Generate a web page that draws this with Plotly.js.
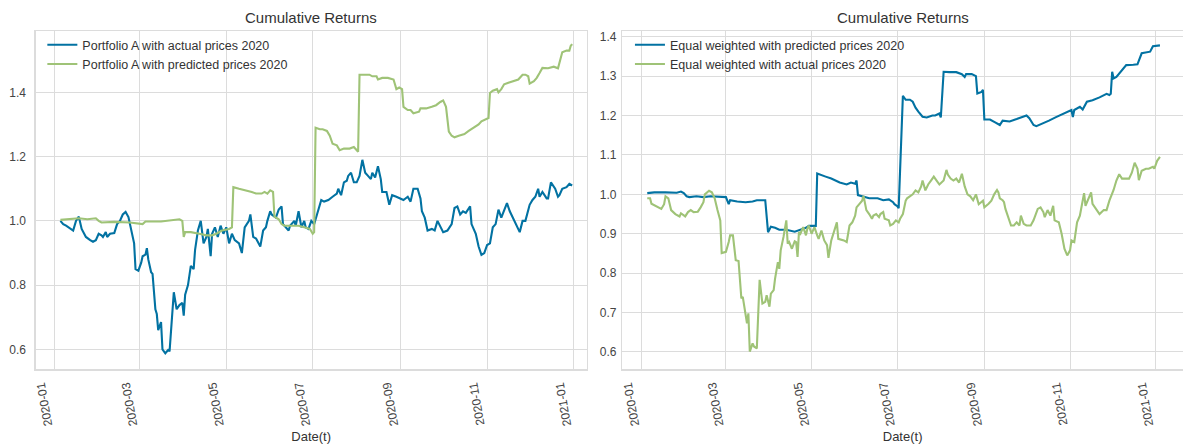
<!DOCTYPE html>
<html>
<head>
<meta charset="utf-8">
<script src="https://cdn.plot.ly/plotly-3.0.1.min.js"></script>
<style>
  html, body { margin: 0; padding: 0; background: #ffffff; }
  #chart { width: 1183px; height: 444px; }
</style>
</head>
<body>
<div id="chart"></div>
<script>
// ---- Portfolio A, 2020 ----
const portfolioActualDates = [
  '2020-01-05','2020-01-07','2020-01-09','2020-01-11','2020-01-14','2020-01-16','2020-01-18','2020-01-20','2020-01-23','2020-01-26',
  '2020-01-28','2020-01-30','2020-02-01','2020-02-03','2020-02-04','2020-02-06','2020-02-07','2020-02-09','2020-02-12','2020-02-14',
  '2020-02-16','2020-02-18','2020-02-20','2020-02-22','2020-02-24','2020-02-26','2020-02-27','2020-02-29','2020-03-02','2020-03-03',
  '2020-03-05','2020-03-06','2020-03-07','2020-03-09','2020-03-10','2020-03-12','2020-03-13','2020-03-14','2020-03-16','2020-03-17',
  '2020-03-19','2020-03-21','2020-03-22','2020-03-24','2020-03-25','2020-03-27','2020-03-29','2020-03-31','2020-04-01','2020-04-02',
  '2020-04-04','2020-04-06','2020-04-08','2020-04-09','2020-04-11','2020-04-13','2020-04-15','2020-04-17','2020-04-18','2020-04-20',
  '2020-04-21','2020-04-23','2020-04-25','2020-04-27','2020-04-29','2020-05-01','2020-05-03','2020-05-05','2020-05-07','2020-05-10',
  '2020-05-12','2020-05-14','2020-05-17','2020-05-18','2020-05-20','2020-05-22','2020-05-25','2020-05-27','2020-05-29','2020-05-30',
  '2020-06-01','2020-06-02','2020-06-05','2020-06-07','2020-06-09','2020-06-10','2020-06-12','2020-06-14','2020-06-15','2020-06-18',
  '2020-06-19','2020-06-21','2020-06-23','2020-06-25','2020-06-26','2020-06-28','2020-06-30','2020-07-02','2020-07-04','2020-07-07',
  '2020-07-09','2020-07-12','2020-07-15','2020-07-18','2020-07-19','2020-07-21','2020-07-23','2020-07-25','2020-07-26','2020-07-28',
  '2020-07-30','2020-08-01','2020-08-03','2020-08-05','2020-08-06','2020-08-07','2020-08-09','2020-08-11','2020-08-12','2020-08-14',
  '2020-08-16','2020-08-18','2020-08-19','2020-08-22','2020-08-24','2020-08-26','2020-08-29','2020-08-31','2020-09-03','2020-09-06',
  '2020-09-08','2020-09-10','2020-09-13','2020-09-15','2020-09-16','2020-09-18','2020-09-20','2020-09-23','2020-09-25','2020-09-27',
  '2020-09-29','2020-10-01','2020-10-04','2020-10-07','2020-10-09','2020-10-11','2020-10-13','2020-10-15','2020-10-17','2020-10-20',
  '2020-10-21','2020-10-24','2020-10-26','2020-10-28','2020-10-30','2020-11-01','2020-11-03','2020-11-05','2020-11-07','2020-11-09',
  '2020-11-11','2020-11-13','2020-11-15','2020-11-17','2020-11-19','2020-11-22','2020-11-24','2020-11-26','2020-11-28','2020-12-01',
  '2020-12-03','2020-12-05','2020-12-07','2020-12-08','2020-12-10','2020-12-13','2020-12-14','2020-12-16','2020-12-19','2020-12-21',
  '2020-12-22','2020-12-24','2020-12-27','2020-12-29','2020-12-31'
];
const portfolioActualReturns = [
  1.000,0.990,0.985,0.980,0.970,1.000,1.013,0.975,0.950,0.940,
  0.935,0.940,0.960,0.955,0.950,0.965,0.950,0.960,0.962,0.990,
  1.000,1.020,1.028,1.012,0.970,0.930,0.850,0.845,0.870,0.890,
  0.895,0.915,0.880,0.840,0.835,0.725,0.710,0.660,0.685,0.600,
  0.588,0.598,0.594,0.720,0.778,0.725,0.738,0.745,0.705,0.770,
  0.800,0.860,0.850,0.910,0.970,1.000,0.930,0.950,0.975,0.890,
  0.960,0.980,0.950,0.985,0.960,0.980,0.930,0.960,0.940,0.930,
  0.900,0.980,1.000,1.020,0.950,0.945,0.920,0.970,0.980,1.000,
  1.030,1.020,1.010,1.035,1.045,0.990,0.980,0.970,0.985,1.000,
  0.985,1.030,0.980,1.000,0.980,0.975,1.000,0.990,1.020,1.065,
  1.060,1.065,1.075,1.085,1.100,1.080,1.120,1.125,1.140,1.150,
  1.120,1.120,1.140,1.190,1.170,1.150,1.140,1.130,1.150,1.135,
  1.170,1.130,1.090,1.090,1.050,1.080,1.075,1.070,1.065,1.075,
  1.060,1.100,1.100,1.070,1.030,1.010,0.970,0.975,0.970,1.000,
  0.980,0.965,0.970,0.990,1.040,1.045,1.020,1.030,1.025,1.045,
  0.990,0.960,0.920,0.894,0.900,0.925,0.930,0.980,0.990,1.035,
  1.010,1.030,1.055,1.030,1.010,0.985,0.965,1.000,1.000,1.050,
  1.065,1.075,1.100,1.075,1.090,1.070,1.070,1.120,1.100,1.075,
  1.080,1.100,1.105,1.115,1.110
];

const portfolioPredictedDates = [
  '2020-01-05','2020-01-11','2020-01-18','2020-01-24','2020-01-30','2020-02-01','2020-02-03','2020-02-12','2020-02-23','2020-03-03',
  '2020-03-05','2020-03-16','2020-03-26','2020-03-29','2020-03-31','2020-04-01','2020-04-02','2020-04-06','2020-04-12','2020-04-17',
  '2020-04-21','2020-04-24','2020-04-28','2020-05-03','2020-05-05','2020-05-06','2020-05-10','2020-05-15','2020-05-19','2020-05-22',
  '2020-05-26','2020-05-28','2020-05-30','2020-06-01','2020-06-03','2020-06-04','2020-06-07','2020-06-09','2020-06-11','2020-06-15',
  '2020-06-21','2020-06-25','2020-06-28','2020-06-29','2020-07-01','2020-07-02','2020-07-03','2020-07-06','2020-07-08','2020-07-11',
  '2020-07-13','2020-07-15','2020-07-18','2020-07-20','2020-07-23','2020-07-27','2020-07-30','2020-08-01','2020-08-02','2020-08-03',
  '2020-08-06','2020-08-10','2020-08-12','2020-08-15','2020-08-16','2020-08-19','2020-08-23','2020-08-27','2020-08-29','2020-08-31',
  '2020-09-02','2020-09-03','2020-09-06','2020-09-08','2020-09-10','2020-09-14','2020-09-15','2020-09-19','2020-09-23','2020-09-26',
  '2020-09-29','2020-10-01','2020-10-03','2020-10-05','2020-10-07','2020-10-09','2020-10-12','2020-10-16','2020-10-19','2020-10-23',
  '2020-10-26','2020-10-28','2020-10-31','2020-11-02','2020-11-03','2020-11-05','2020-11-08','2020-11-09','2020-11-11','2020-11-13',
  '2020-11-16','2020-11-20','2020-11-23','2020-11-26','2020-11-28','2020-11-30','2020-12-01','2020-12-04','2020-12-06','2020-12-08',
  '2020-12-10','2020-12-14','2020-12-18','2020-12-21','2020-12-23','2020-12-24','2020-12-27','2020-12-29','2020-12-30','2020-12-31'
];
const portfolioPredictedReturns = [
  1.003,1.005,1.008,1.005,1.008,1.000,0.995,0.997,0.995,0.990,
  0.998,0.998,1.002,1.005,1.000,0.950,0.965,0.965,0.960,0.955,
  0.955,0.960,0.970,0.975,0.980,1.105,1.100,1.095,1.090,1.085,
  1.085,1.090,1.085,1.095,1.090,1.013,1.005,0.990,0.985,0.985,
  0.985,0.980,0.975,0.975,0.960,0.965,1.290,1.285,1.285,1.280,
  1.265,1.240,1.235,1.220,1.225,1.225,1.230,1.220,1.215,1.455,
  1.455,1.455,1.450,1.450,1.440,1.445,1.445,1.440,1.410,1.415,
  1.410,1.355,1.345,1.345,1.335,1.340,1.350,1.350,1.355,1.360,
  1.370,1.375,1.355,1.278,1.265,1.260,1.265,1.270,1.280,1.290,
  1.300,1.310,1.315,1.320,1.398,1.405,1.410,1.400,1.410,1.425,
  1.430,1.435,1.440,1.455,1.455,1.450,1.427,1.435,1.445,1.460,
  1.476,1.475,1.480,1.475,1.510,1.525,1.530,1.530,1.545,1.550
];

// ---- Equal weighted portfolio, 2020 ----
const equalPredictedDates = [
  '2020-01-05','2020-01-10','2020-01-18','2020-01-26','2020-01-29','2020-01-31','2020-02-02','2020-02-04','2020-02-09','2020-02-14',
  '2020-02-19','2020-02-25','2020-03-01','2020-03-03','2020-03-04','2020-03-09','2020-03-15','2020-03-20','2020-03-23','2020-03-29',
  '2020-03-31','2020-04-02','2020-04-05','2020-04-08','2020-04-13','2020-04-19','2020-04-23','2020-04-27','2020-04-29','2020-05-04',
  '2020-05-05','2020-05-07','2020-05-11','2020-05-15','2020-05-21','2020-05-26','2020-05-29','2020-06-01','2020-06-02','2020-06-03',
  '2020-06-06','2020-06-11','2020-06-17','2020-06-21','2020-06-25','2020-06-28','2020-06-29','2020-07-01','2020-07-02','2020-07-05',
  '2020-07-07','2020-07-10','2020-07-12','2020-07-14','2020-07-16','2020-07-19','2020-07-22','2020-07-26','2020-07-28','2020-07-31',
  '2020-08-01','2020-08-03','2020-08-07','2020-08-12','2020-08-16','2020-08-18','2020-08-19','2020-08-23','2020-08-26','2020-08-27',
  '2020-08-30','2020-08-31','2020-09-01','2020-09-05','2020-09-09','2020-09-12','2020-09-14','2020-09-19','2020-09-24','2020-09-28',
  '2020-10-01','2020-10-03','2020-10-06','2020-10-08','2020-10-13','2020-10-17','2020-10-22','2020-10-27','2020-10-31','2020-11-02',
  '2020-11-03','2020-11-04','2020-11-08','2020-11-10','2020-11-13','2020-11-17','2020-11-22','2020-11-27','2020-11-29','2020-11-30',
  '2020-12-01','2020-12-02','2020-12-04','2020-12-06','2020-12-09','2020-12-11','2020-12-16','2020-12-19','2020-12-22','2020-12-25',
  '2020-12-28','2020-12-30','2021-01-04'
];
const equalPredictedReturns = [
  1.003,1.005,1.005,1.004,1.007,1.003,0.995,0.993,0.995,0.993,
  0.995,0.993,0.993,0.975,0.985,0.982,0.980,0.982,0.985,0.985,
  0.904,0.918,0.915,0.910,0.910,0.905,0.910,0.915,0.920,0.920,
  1.053,1.050,1.045,1.040,1.030,1.025,1.030,1.027,1.035,0.998,
  0.995,0.990,0.990,0.985,0.987,0.980,0.975,0.970,0.965,1.250,
  1.240,1.240,1.235,1.220,1.210,1.197,1.195,1.200,1.200,1.205,
  1.195,1.311,1.310,1.310,1.305,1.298,1.305,1.305,1.300,1.256,
  1.260,1.265,1.190,1.190,1.182,1.176,1.187,1.185,1.191,1.197,
  1.200,1.193,1.176,1.173,1.180,1.187,1.196,1.204,1.212,1.214,
  1.196,1.214,1.222,1.215,1.235,1.239,1.246,1.255,1.252,1.255,
  1.311,1.294,1.298,1.307,1.318,1.328,1.329,1.330,1.358,1.360,
  1.362,1.376,1.378
];

const equalActualDates = [
  '2020-01-05','2020-01-07','2020-01-08','2020-01-11','2020-01-15','2020-01-17','2020-01-18','2020-01-20','2020-01-21','2020-01-22',
  '2020-01-25','2020-01-28','2020-01-29','2020-02-01','2020-02-03','2020-02-05','2020-02-07','2020-02-10','2020-02-12','2020-02-14',
  '2020-02-15','2020-02-18','2020-02-20','2020-02-22','2020-02-24','2020-02-26','2020-02-27','2020-03-01','2020-03-03','2020-03-04',
  '2020-03-06','2020-03-08','2020-03-10','2020-03-12','2020-03-13','2020-03-15','2020-03-16','2020-03-17','2020-03-18','2020-03-20',
  '2020-03-21','2020-03-23','2020-03-25','2020-03-27','2020-03-29','2020-03-30','2020-04-01','2020-04-02','2020-04-04','2020-04-05',
  '2020-04-07','2020-04-08','2020-04-09','2020-04-11','2020-04-13','2020-04-14','2020-04-15','2020-04-17','2020-04-19','2020-04-20',
  '2020-04-21','2020-04-22','2020-04-23','2020-04-25','2020-04-27','2020-04-28','2020-04-29','2020-05-01','2020-05-03','2020-05-05',
  '2020-05-06','2020-05-08','2020-05-10','2020-05-12','2020-05-13','2020-05-15','2020-05-17','2020-05-19','2020-05-20','2020-05-24',
  '2020-05-26','2020-05-28','2020-05-30','2020-06-01','2020-06-02','2020-06-04','2020-06-06','2020-06-07','2020-06-09','2020-06-11',
  '2020-06-13','2020-06-14','2020-06-16','2020-06-18','2020-06-19','2020-06-21','2020-06-22','2020-06-25','2020-06-26','2020-06-28',
  '2020-06-30','2020-07-02','2020-07-03','2020-07-05','2020-07-07','2020-07-08','2020-07-10','2020-07-12','2020-07-14','2020-07-16',
  '2020-07-18','2020-07-19','2020-07-21','2020-07-23','2020-07-25','2020-07-27','2020-07-29','2020-07-31','2020-08-03','2020-08-05',
  '2020-08-06','2020-08-08','2020-08-10','2020-08-12','2020-08-14','2020-08-16','2020-08-18','2020-08-20','2020-08-22','2020-08-24',
  '2020-08-26','2020-08-27','2020-08-28','2020-08-31','2020-09-01','2020-09-04','2020-09-06','2020-09-08','2020-09-10','2020-09-11',
  '2020-09-12','2020-09-14','2020-09-15','2020-09-16','2020-09-18','2020-09-20','2020-09-22','2020-09-24','2020-09-26','2020-09-27',
  '2020-09-29','2020-10-01','2020-10-04','2020-10-06','2020-10-09','2020-10-11','2020-10-13','2020-10-14','2020-10-16','2020-10-18',
  '2020-10-20','2020-10-21','2020-10-24','2020-10-26','2020-10-28','2020-10-30','2020-11-01','2020-11-02','2020-11-04','2020-11-05',
  '2020-11-06','2020-11-08','2020-11-10','2020-11-11','2020-11-12','2020-11-16','2020-11-17','2020-11-20','2020-11-22','2020-11-25',
  '2020-11-27','2020-11-29','2020-12-02','2020-12-04','2020-12-06','2020-12-08','2020-12-11','2020-12-13','2020-12-15','2020-12-17',
  '2020-12-19','2020-12-20','2020-12-22','2020-12-25','2020-12-27','2020-12-30','2020-12-31','2021-01-02','2021-01-04'
];
const equalActualReturns = [
  0.990,0.990,0.976,0.970,0.963,0.975,0.995,0.990,0.972,0.960,
  0.950,0.944,0.952,0.944,0.955,0.960,0.955,0.956,0.967,0.980,
  1.000,1.009,1.005,0.990,0.960,0.934,0.851,0.854,0.879,0.896,
  0.896,0.833,0.831,0.736,0.740,0.698,0.673,0.698,0.601,0.622,
  0.614,0.609,0.783,0.723,0.727,0.744,0.715,0.748,0.757,0.786,
  0.828,0.811,0.858,0.892,0.934,0.875,0.879,0.862,0.881,0.879,
  0.841,0.904,0.900,0.917,0.896,0.913,0.921,0.900,0.917,0.896,
  0.887,0.908,0.883,0.871,0.839,0.883,0.904,0.929,0.887,0.883,
  0.879,0.921,0.929,0.946,0.967,0.976,0.984,0.996,0.960,0.950,
  0.938,0.946,0.950,0.942,0.950,0.955,0.938,0.934,0.921,0.925,
  0.934,0.929,0.938,0.950,0.984,0.990,0.995,1.000,1.010,1.005,
  1.020,1.035,1.010,1.025,1.035,1.045,1.035,1.025,1.035,1.062,
  1.050,1.040,1.035,1.040,1.030,1.052,1.020,1.000,0.995,0.985,
  1.000,0.985,0.975,0.984,0.967,0.976,0.984,1.000,1.011,1.005,
  0.990,0.985,0.980,0.963,0.942,0.921,0.921,0.929,0.921,0.946,
  0.925,0.921,0.921,0.934,0.963,0.967,0.955,0.942,0.960,0.946,
  0.971,0.934,0.929,0.900,0.862,0.845,0.858,0.883,0.879,0.908,
  0.929,0.946,0.984,1.003,0.971,1.005,0.976,0.960,0.950,0.960,
  0.960,0.984,1.011,1.035,1.051,1.040,1.040,1.040,1.055,1.080,
  1.065,1.036,1.060,1.065,1.065,1.070,1.065,1.085,1.095
];

// ---- axis ticks and labels ----
const monthTicks = ['2020-01-01','2020-03-01','2020-05-01','2020-07-01','2020-09-01','2020-11-01','2021-01-01'];
const monthTickLabels = ['2020-01','2020-03','2020-05','2020-07','2020-09','2020-11','2021-01'];
const leftYTicks = [0.6, 0.8, 1.0, 1.2, 1.4];
const rightYTicks = [0.6, 0.7, 0.8, 0.9, 1.0, 1.1, 1.2, 1.3, 1.4];
const panelTitle = 'Cumulative Returns';
const xAxisTitle = 'Date(t)';

const BLUE = '#0272a2';
const GREEN = '#9fc377';
const FONT = 'Liberation Sans, Arial, Helvetica, sans-serif';
const GRID = '#dcdcdc';

const traces = [
  { x: portfolioActualDates, y: portfolioActualReturns, name: 'Portfolio A with actual prices 2020',
    type: 'scatter', mode: 'lines', line: { color: BLUE, width: 2.1 }, xaxis: 'x', yaxis: 'y', legend: 'legend' },
  { x: portfolioPredictedDates, y: portfolioPredictedReturns, name: 'Portfolio A with predicted prices 2020',
    type: 'scatter', mode: 'lines', line: { color: GREEN, width: 2.1 }, xaxis: 'x', yaxis: 'y', legend: 'legend' },
  { x: equalPredictedDates, y: equalPredictedReturns, name: 'Equal weighted with predicted prices 2020',
    type: 'scatter', mode: 'lines', line: { color: BLUE, width: 2.1 }, xaxis: 'x2', yaxis: 'y2', legend: 'legend2' },
  { x: equalActualDates, y: equalActualReturns, name: 'Equal weighted with actual prices 2020',
    type: 'scatter', mode: 'lines', line: { color: GREEN, width: 2.1 }, xaxis: 'x2', yaxis: 'y2', legend: 'legend2' }
];

function dateAxis(domain, range, anchor) {
  return {
    domain: domain, range: range, anchor: anchor, type: 'date',
    tickmode: 'array', tickvals: monthTicks, ticktext: monthTickLabels,
    tickangle: -100, ticks: '', ticklabelshift: -16, ticklabelstandoff: 4,
    tickfont: { family: FONT, size: 12, color: '#444444' },
    showgrid: true, gridcolor: GRID, gridwidth: 1,
    showline: true, linecolor: GRID, linewidth: 1.3, mirror: true, zeroline: false,
    title: { text: xAxisTitle, font: { family: FONT, size: 13, color: '#333333' }, standoff: 8 }
  };
}
function valueAxis(domain, range, ticks, anchor, standoff) {
  return {
    domain: domain, range: range, anchor: anchor,
    tickmode: 'array', tickvals: ticks, tickformat: '.1f', ticks: '', ticklabelstandoff: standoff,
    tickfont: { family: FONT, size: 12, color: '#444444' },
    showgrid: true, gridcolor: GRID, gridwidth: 1,
    showline: true, linecolor: GRID, linewidth: 1.3, mirror: true, zeroline: false
  };
}

const yDomain = [0.1682, 0.9302];
const layout = {
  width: 1183, height: 444,
  margin: { l: 0, r: 0, t: 0, b: 0 },
  paper_bgcolor: '#ffffff', plot_bgcolor: '#ffffff',
  font: { family: FONT, color: '#333333' },
  showlegend: true,
  xaxis: dateAxis([0.0302, 0.4959], ['2019-12-18 14:24', '2021-01-10 05:00'], 'y'),
  yaxis: valueAxis(yDomain, [0.538, 1.591], leftYTicks, 'x', 6),
  xaxis2: dateAxis([0.5260, 1.0], ['2019-12-18 05:00', '2021-01-20 10:00'], 'y2'),
  yaxis2: valueAxis(yDomain, [0.556, 1.4145], rightYTicks, 'x2', 2),
  legend: { x: 0.0358, y: 0.932, xanchor: 'left', yanchor: 'top', bgcolor: 'rgba(0,0,0,0)',
            font: { family: FONT, size: 12.5, color: '#333333' }, tracegroupgap: 0 },
  legend2: { x: 0.5325, y: 0.932, xanchor: 'left', yanchor: 'top', bgcolor: 'rgba(0,0,0,0)',
             font: { family: FONT, size: 12.5, color: '#333333' }, tracegroupgap: 0 },
  annotations: [
    { text: panelTitle, xref: 'paper', yref: 'paper', x: 0.2631, y: 0.9595, xanchor: 'center', yanchor: 'middle',
      showarrow: false, font: { family: FONT, size: 15, color: '#333333' } },
    { text: panelTitle, xref: 'paper', yref: 'paper', x: 0.763, y: 0.9595, xanchor: 'center', yanchor: 'middle',
      showarrow: false, font: { family: FONT, size: 15, color: '#333333' } }
  ]
};

Plotly.newPlot('chart', traces, layout, { displayModeBar: false, staticPlot: true });
</script>
</body>
</html>
